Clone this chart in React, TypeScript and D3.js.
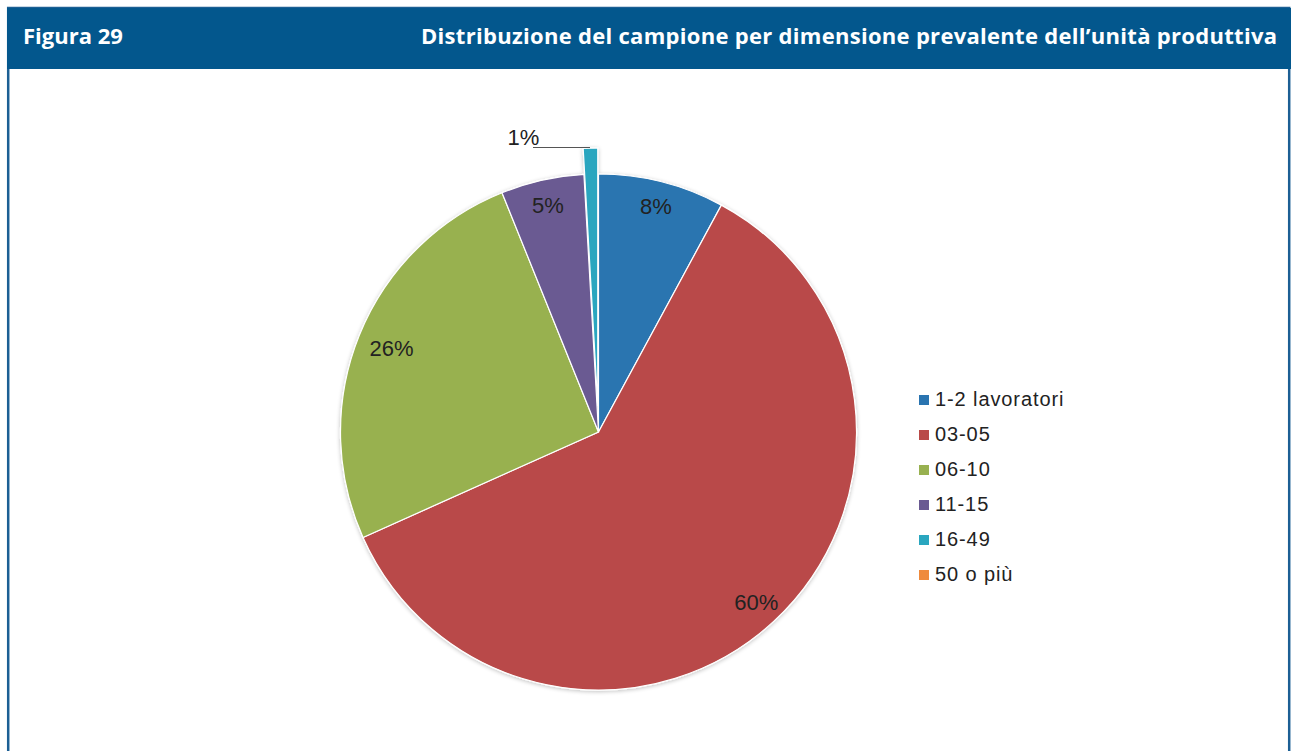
import React from "react";
import * as d3 from "d3";

const categories = ["1-2 lavoratori", "03-05", "06-10", "11-15", "16-49", "50 o più"];
const values = [7.9, 60.4, 25.6, 5.2, 0.9, 0];
const labels = ["8%", "60%", "26%", "5%", "1%", "0%"];
const colors = ["#2a74b0", "#b94a48", "#98b150", "#6a5a92", "#2aa6bf", "#ef8a3c"];

const W = 1291;
const H = 751;

export default function App() {
  const cx = 598.5;
  const cy = 432;
  const r = 258;
  const pie = d3.pie<number>().sort(null).value((d) => d)(values);
  const arc = d3.arc<d3.PieArcDatum<number>>().innerRadius(0).outerRadius(r);
  const labelR = [0.905, 0.9, 0.865, 0.9, 0, 0];
  const explode = 26;
  const legendX = 919;
  const legendY0 = 395;
  const legendStep = 35;
  const lblFont = 22;
  return (
    <svg width={W} height={H} style={{ position: "absolute", left: 0, top: 0 }}>
      <rect x={0} y={0} width={W} height={H} fill="#ffffff" />
      <rect x={8.2} y={8} width={1281} height={760} fill="none" stroke="#1c5f94" strokeWidth={2.5} />
      <rect x={7} y={8} width={1284} height={61} fill="#03578d" />
      <text x={23} y={44} fill="#ffffff" fontFamily="'Open Sans', sans-serif" fontWeight={700} fontSize={22}>
        Figura 29
      </text>
      <text x={1277} y={44} fill="#ffffff" fontFamily="'Open Sans', sans-serif" fontWeight={700} fontSize={22} textAnchor="end" textLength={856} lengthAdjust="spacing">
        Distribuzione del campione per dimensione prevalente dell’unità produttiva
      </text>
      <defs>
        <filter id="sh" x="-10%" y="-10%" width="120%" height="120%">
          <feGaussianBlur in="SourceAlpha" stdDeviation="2" />
          <feOffset dx="0" dy="1" result="b" />
          <feComponentTransfer>
            <feFuncA type="linear" slope="0.25" />
          </feComponentTransfer>
          <feMerge>
            <feMergeNode />
            <feMergeNode in="SourceGraphic" />
          </feMerge>
        </filter>
      </defs>
      <g transform={`translate(${cx},${cy})`} filter="url(#sh)">
        {pie.map((p, i) => {
          if (p.value === 0) return null;
          const ex = i === 4 ? explode : 0;
          const mid = (p.startAngle + p.endAngle) / 2;
          const dx = Math.sin(mid) * ex;
          const dy = -Math.cos(mid) * ex;
          return (
            <path
              key={i}
              d={arc(p) || ""}
              transform={`translate(${dx},${dy})`}
              fill={colors[i]}
              stroke="#ffffff"
              strokeWidth={1.2}
            />
          );
        })}
      </g>
      <g transform={`translate(${cx},${cy})`} fontFamily="'Liberation Sans', Arial, sans-serif" fontSize={lblFont} fill="#222">
        {pie.map((p, i) => {
          if (p.value === 0 || i === 4) return null;
          const mid = (p.startAngle + p.endAngle) / 2;
          const rr = r * labelR[i];
          const lx = Math.sin(mid) * rr;
          const ly = -Math.cos(mid) * rr;
          return (
            <text key={i} x={lx} y={ly + lblFont * 0.36} textAnchor="middle">
              {labels[i]}
            </text>
          );
        })}
      </g>
      <line x1={533} y1={147.5} x2={590} y2={147.5} stroke="#555" strokeWidth={1} />
      <text x={523.5} y={137 + lblFont * 0.36} textAnchor="middle" fontFamily="'Liberation Sans', Arial, sans-serif" fontSize={lblFont} fill="#222">
        {labels[4]}
      </text>
      <g fontFamily="'Liberation Sans', Arial, sans-serif" fontSize={20} fill="#222" letterSpacing={0.9}>
        {categories.map((c, i) => (
          <g key={c} transform={`translate(${legendX},${legendY0 + i * legendStep})`}>
            <rect x={0} y={0} width={10} height={10} fill={colors[i]} />
            <text x={16} y={11}>{c}</text>
          </g>
        ))}
      </g>
    </svg>
  );
}
